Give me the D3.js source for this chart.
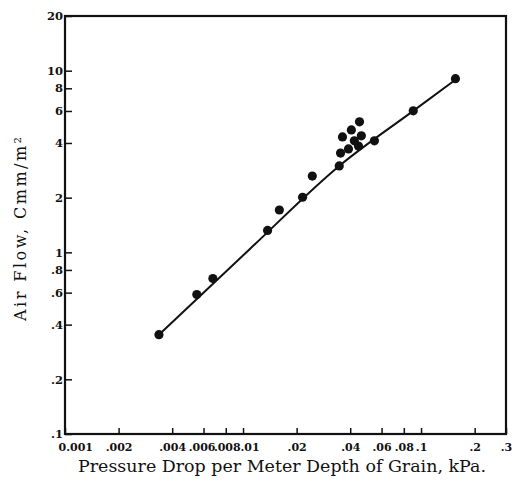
<!DOCTYPE html>
<html><head><meta charset="utf-8">
<script src="https://cdn.jsdelivr.net/npm/d3@7/dist/d3.min.js"></script>
<style>body{margin:0;background:#fff}svg{display:block}</style>
</head><body><svg id="c" width="512" height="484"></svg>
<script>
const pressure = [0.00337,0.0055,0.00677,0.01374,0.0160,0.0216,0.0245,0.0347,0.0353,0.0391,0.0362,0.0406,0.0451,0.0462,0.0445,0.0422,0.0547,0.0904,0.156];
const airflow  = [0.352,0.586,0.718,1.32,1.71,2.01,2.63,2.99,3.52,3.71,4.32,4.72,5.23,4.38,3.85,4.11,4.11,6.01,9.04];
const curveX = [0.00337,0.01089,0.0347,0.0904,0.156];
const curveY = [0.352,1.04,2.99,6.01,8.91];
const xTicks = [0.001,0.002,0.004,0.006,0.008,0.01,0.02,0.04,0.06,0.08,0.1,0.2,0.3];
const xTickLabels = ["0.001",".002",".004",".006",".008",".01",".02",".04",".06",".08",".1",".2",".3"];
const yTicks = [0.1,0.2,0.4,0.6,0.8,1,2,4,6,8,10,20];
const yTickLabels = [".1",".2",".4",".6",".8","1","2","4","6","8","10","20"];

const svg = d3.select("#c");
const x = d3.scaleLog().domain([0.001,0.3]).range([65,506]);
const y = d3.scaleLog().domain([0.1,20]).range([434,16]);
const font = "'DejaVu Serif','Liberation Serif',serif";

// ticks (inward)
const xAxis = d3.axisBottom(x).tickValues(xTicks).tickSize(-6).tickPadding(9)
  .tickFormat((d,i)=>xTickLabels[i]);
const gx = svg.append("g").attr("transform",`translate(0,${y(0.1)})`).call(xAxis);
gx.select(".domain").remove();
gx.selectAll(".tick line").attr("stroke","#111").attr("stroke-width",1.5);
const xdx = [-7,0,0,-2,1,-3,0,0,0,0,0,0,0];
gx.selectAll(".tick text").attr("font-family",font).attr("font-weight","bold")
  .attr("font-size",11).attr("fill","#111")
  .attr("text-anchor",(d,i)=> (i===0 || i===5) ? "start" : "middle")
  .attr("dx",(d,i)=> xdx[i]);

const yAxis = d3.axisLeft(y).tickValues(yTicks).tickSize(-7).tickPadding(2)
  .tickFormat((d,i)=>yTickLabels[i]);
const gy = svg.append("g").attr("transform",`translate(${x(0.001)},0)`).call(yAxis);
gy.select(".domain").remove();
gy.selectAll(".tick line").attr("stroke","#111").attr("stroke-width",1.5);
gy.selectAll(".tick text").attr("font-family",font).attr("font-weight","bold")
  .attr("font-size",11.5).attr("fill","#111");

// frame
svg.append("rect").attr("x",x(0.001)).attr("y",y(20))
  .attr("width",x(0.3)-x(0.001)).attr("height",y(0.1)-y(20))
  .attr("fill","none").attr("stroke","#111").attr("stroke-width",2.2);

// fitted curve
const line = d3.line().x(d=>x(d[0])).y(d=>y(d[1])).curve(d3.curveMonotoneX);
svg.append("path").datum(curveX.map((v,i)=>[v,curveY[i]]))
  .attr("d",line).attr("fill","none").attr("stroke","#111").attr("stroke-width",2);

// points
svg.append("g").selectAll("circle").data(pressure.map((v,i)=>[v,airflow[i]]))
  .join("circle").attr("cx",d=>x(d[0])).attr("cy",d=>y(d[1])).attr("r",4.6).attr("fill","#111");

// titles
svg.append("text").attr("x",282).attr("y",472).attr("text-anchor","middle")
  .attr("font-family",font).attr("font-size",16.5).attr("fill","#111")
  .attr("textLength",408).attr("lengthAdjust","spacingAndGlyphs")
  .text("Pressure Drop per Meter Depth of Grain, kPa.");
svg.append("text").attr("transform","translate(26,229) rotate(-90)").attr("text-anchor","middle")
  .attr("font-family",font).attr("font-size",16).attr("fill","#111")
  .attr("textLength",184).attr("lengthAdjust","spacing")
  .text("Air Flow, Cmm/m²");
</script></body></html>
